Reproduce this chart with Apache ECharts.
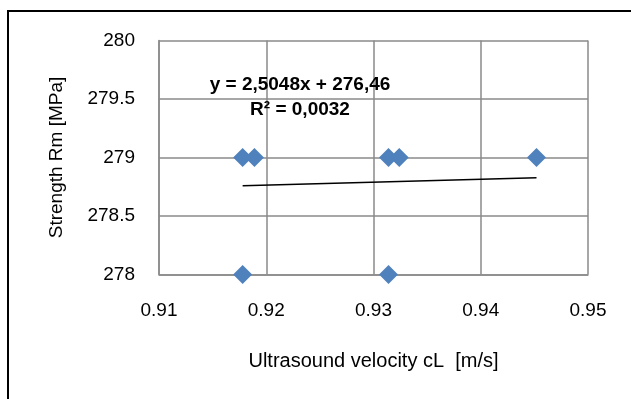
<!DOCTYPE html>
<html>
<head>
<meta charset="utf-8">
<script src="https://cdn.jsdelivr.net/npm/echarts@6/dist/echarts.min.js"></script>
<style>
html,body{margin:0;padding:0;background:#fff;}
#c{width:631px;height:399px;}
</style>
</head>
<body>
<div id="c"></div>
<script>
// Data
var velocity = [0.9178, 0.9189, 0.9314, 0.9324, 0.9452, 0.9178, 0.9314];
var strength = [279, 279, 279, 279, 279, 278, 278];
var xTicks = [0.91, 0.92, 0.93, 0.94, 0.95];
var yTicks = [278, 278.5, 279, 279.5, 280];
var trendSlope = 2.5048;
var trendIntercept = 276.46;
var equationText = 'y = 2,5048x + 276,46';
var r2Text = 'R\u00b2 = 0,0032';
var xTitle = 'Ultrasound velocity cL  [m/s]';
var yTitle = 'Strength Rm [MPa]';

var points = velocity.map(function (v, i) { return [v, strength[i]]; });
var xMin = Math.min.apply(null, velocity), xMax = Math.max.apply(null, velocity);
var trend = [[xMin, trendSlope * xMin + trendIntercept], [xMax, trendSlope * xMax + trendIntercept]];

var FONT = 'Liberation Sans';
var chart = echarts.init(document.getElementById('c'), null, {renderer: 'canvas'});
chart.setOption({
  animation: false,
  backgroundColor: '#fff',
  grid: {left: 159, top: 40.5, width: 429, height: 234},
  xAxis: {
    type: 'value',
    min: xTicks[0], max: xTicks[xTicks.length - 1], interval: 0.01,
    axisLine: {show: true, lineStyle: {color: '#8a8a8a', width: 1.5}},
    axisTick: {show: false},
    splitLine: {show: true, lineStyle: {color: '#8a8a8a', width: 1.5}},
    axisLabel: {color: '#000', fontFamily: FONT, fontSize: 19, margin: 27,
      formatter: function (v) { return v.toFixed(2); }},
    name: xTitle, nameLocation: 'middle', nameGap: 77,
    nameTextStyle: {color: '#000', fontFamily: FONT, fontSize: 20}
  },
  yAxis: {
    type: 'value',
    min: yTicks[0], max: yTicks[yTicks.length - 1], interval: 0.5,
    axisLine: {show: true, lineStyle: {color: '#8a8a8a', width: 1.5}},
    axisTick: {show: false},
    splitLine: {show: true, lineStyle: {color: '#8a8a8a', width: 1.5}},
    axisLabel: {color: '#000', fontFamily: FONT, fontSize: 19, margin: 24},
    name: yTitle, nameLocation: 'middle', nameGap: 93, nameRotate: 90,
    nameTextStyle: {color: '#000', fontFamily: FONT, fontSize: 19}
  },
  series: [
    {
      type: 'line', data: trend, symbol: 'none', silent: true,
      lineStyle: {color: '#000', width: 1.5}, z: 3
    },
    {
      type: 'scatter', data: points, symbol: 'diamond', symbolSize: 19,
      itemStyle: {color: '#4f81bd', opacity: 1}, z: 4
    }
  ],
  graphic: [
    {type: 'rect', shape: {x: 8, y: 11, width: 640, height: 400},
      style: {fill: 'none', stroke: '#000', lineWidth: 2}, silent: true},
    {type: 'text', x: 300, y: 85, style: {text: equationText, font: 'bold 19px "' + FONT + '"',
      fill: '#000', textAlign: 'center', textVerticalAlign: 'middle'}, z: 10},
    {type: 'text', x: 300, y: 110, style: {text: r2Text, font: 'bold 19px "' + FONT + '"',
      fill: '#000', textAlign: 'center', textVerticalAlign: 'middle'}, z: 10}
  ]
});
</script>
</body>
</html>
